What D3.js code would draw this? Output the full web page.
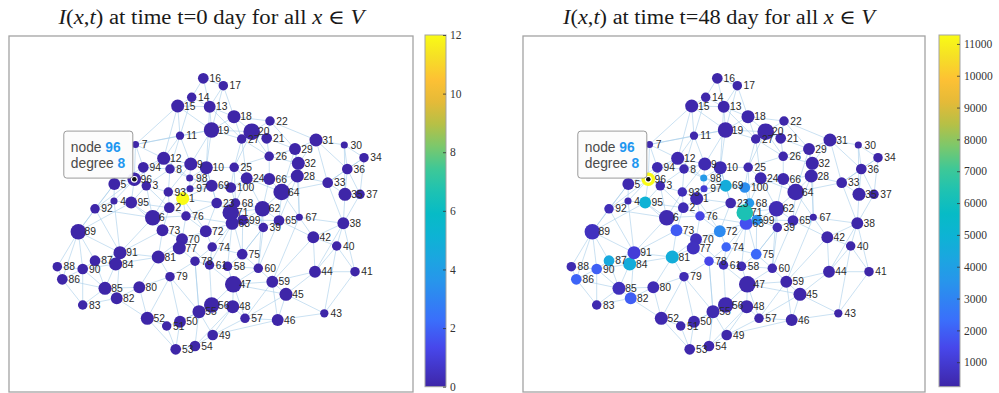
<!DOCTYPE html>
<html>
<head>
<meta charset="utf-8">
<script src="https://cdn.jsdelivr.net/npm/d3@7"></script>
<style>
  body { margin: 0; background: #fff; }
  svg { display: block; }
</style>
</head>
<body>
<svg id="chart" width="999" height="393"></svg>
<script>
// graph layout coordinates of node 1..100 (same layout in both panels)
const nodeX = [173.7,160.3,137.3,105,105.3,143.7,126.5,161,181.8,197.3,
  171,154.7,200.7,182.7,168.7,194.3,214.3,225,202.5,242.7,
  257.7,261,207.7,237.7,225.2,260.2,232.7,288.3,286,335.3,
  307,289.3,318.7,355,336,338.3,351,334.3,254.3,327.7,
  346,304.3,315.3,306,277,268.7,224.3,223.7,203.7,171,
  157.7,138.3,166.7,186,190,202.7,236,218.5,263.3,249.3,
  200.5,253.5,223.2,272.7,270,260.3,290.3,226.5,202.7,173,
  221.8,196.8,153.5,203.2,233.2,177,170.3,186,161,130.3,
  149.3,107.7,73.7,106.7,96,53.3,86,48.3,69.3,73.7,
  111,86,159.3,134.3,122.2,125.3,181,180.7,233.7,221.8];
const nodeY = [193.5,184.3,206.2,191,208,174.3,247.5,223,228,224.3,
  256.3,233.7,285.3,294.7,286,313.7,306.3,275.3,262,260.3,
  253.7,271,189,213.7,224.7,235.7,253,216,243,247,
  252,228.7,209.3,234.3,197.7,223,197.7,168.7,164.5,146,
  120.3,154.7,78.7,120.3,97.7,72,107.7,85.3,57,70.3,
  66,73.7,42.7,46,80.3,87,73.7,125.7,110.3,123.7,
  127,183.3,168.7,200,171.5,213,174.7,189,206.2,152.8,
  179.5,160.8,161.7,145,137.8,176,144,130.8,115.3,104.7,
  135,93.7,87,128,103.7,112.7,131.3,125.3,160.3,123,
  139.3,183.2,200,224.7,189.5,212.7,203.3,214,172,204.5];
const nodeDegree = [11,9,8,6,10,13,6,8,11,11,
  7,11,10,8,11,9,8,11,13,14,
  9,8,9,10,8,8,8,11,10,6,
  11,11,9,8,11,9,8,10,8,8,
  8,10,7,10,11,10,14,11,9,10,
  8,11,9,9,11,13,8,8,10,8,
  8,13,11,14,9,10,6,8,10,10,
  14,10,10,8,9,8,11,8,8,10,
  11,10,8,11,11,9,9,8,13,9,
  11,8,8,9,10,8,6,6,9,9];

// I(x,t) at t = 0 and t = 48 days
const infectedDay0 = d3.range(100).map(i => i === 0 ? 12 : 0);
const infectedDay48 = [420,450,400,380,350,380,330,380,400,420,
  300,350,280,280,300,250,250,280,300,300,
  280,260,330,350,330,300,300,280,260,230,
  250,270,260,230,250,240,230,250,420,250,
  230,280,230,260,260,250,330,300,270,330,
  330,350,300,300,380,350,270,450,280,350,
  500,450,1650,320,350,320,280,3700,4600,600,
  6300,3200,1900,2100,2200,1300,650,1400,450,450,
  4650,1950,380,4600,600,2100,4400,400,650,2000,
  1100,500,500,380,4900,11280,1000,3750,3400,3300];

const ticksDay0 = [0,2,4,6,8,10,12];
const ticksDay48 = [1000,2000,3000,4000,5000,6000,7000,8000,9000,10000,11000];

const edgeList = ("16-17 16-14 16-13 14-15 14-13 15-13 15-11 15-19 13-19 13-18 17-18 17-13 18-19 18-20 " +
  "18-22 18-27 19-11 19-10 19-27 19-9 20-21 20-22 20-27 20-26 21-22 21-26 21-29 22-31 27-25 11-12 " +
  "11-9 11-7 12-8 12-94 12-9 12-7 8-9 8-98 8-93 9-98 9-10 10-25 10-69 10-98 25-24 25-100 25-26 " +
  "26-66 26-29 24-66 24-100 24-64 24-68 66-64 66-28 66-62 29-32 29-31 31-30 31-32 31-33 30-34 " +
  "30-36 34-36 34-37 36-35 36-33 32-28 28-33 28-64 33-35 35-37 35-38 37-38 64-62 64-67 64-65 " +
  "62-65 62-99 62-68 62-39 65-67 65-39 67-38 67-42 38-42 38-40 40-42 40-41 42-44 44-41 44-59 " +
  "44-45 41-43 45-43 45-59 45-46 46-57 46-43 59-60 59-47 60-75 60-39 57-48 57-47 47-48 47-58 " +
  "47-56 48-56 48-49 56-55 55-50 55-54 49-54 49-57 50-51 50-53 51-52 51-53 53-54 52-80 52-82 " +
  "80-79 80-85 80-81 82-85 83-85 83-82 85-86 85-90 86-88 86-90 88-90 88-89 89-92 89-87 89-90 " +
  "87-90 87-84 87-91 84-91 84-81 91-81 91-6 81-73 81-77 81-79 79-78 77-70 70-73 70-76 73-6 6-2 " +
  "6-95 6-76 2-93 2-1 2-76 1-93 1-97 1-23 1-76 93-3 93-97 97-98 97-69 69-100 69-23 23-68 23-71 " +
  "23-72 68-100 68-71 71-63 71-99 63-99 63-72 63-74 99-39 72-74 72-76 74-61 74-75 61-78 61-58 " +
  "58-75 58-60 75-39 78-77 3-96 3-94 96-94 96-5 96-7 96-95 96-4 96-92 5-4 5-92 5-7 4-95 4-92 " +
  "95-3 94-7 94-8 3-2 7-15 92-91 89-95 91-82 79-52 78-55 70-61 76-23 47-45 56-61 55-79 54-48 " +
  "49-46 57-59 60-47 36-37 28-67 33-38 32-26 29-28 20-25 27-24 13-10 11-8 12-98 5-89 84-85 " +
  "90-84 86-83 77-72 73-2 6-93 1-69 97-10 98-100 71-62 99-75 63-58 65-42 67-59 62-60 64-33 " +
  "89-91 92-6 4-91 7-19 15-12 14-11 17-19 22-29 31-36 30-35 34-33 29-64 32-67 38-44 40-44 " +
  "42-59 65-60 39-75 47-61 56-50 55-78 53-52 49-55 57-45 46-59 43-40 41-38 82-80 83-90 86-89 " +
  "87-85 91-73 81-70 79-50 78-74 70-72 73-95 6-3 93-9 97-100 98-69 10-23 25-68 24-62 27-26 " +
  "20-19 13-27 94-5 96-12 3-8 2-95 1-72 76-63 23-99 71-75 63-61 99-65 66-100 28-65")
  .split(" ").map(s => s.split("-").map(Number));

const selectedNode = 96;

// MATLAB parula, sampled
const parulaT = [0,0.111,0.19,0.302,0.365,0.429,0.492,0.556,0.619,0.683,0.746,0.81,0.873,0.937,1];
const parulaC = ["#3e26a8","#4747eb","#3a6ffb","#2796eb","#1ba6e0","#0db3d4","#07bbc6","#1ec2b2",
  "#3ec897","#7bc86c","#b6c046","#e5ba38","#fdc134","#f6df26","#f9fb15"];

const svg = d3.select("#chart");
const defs = svg.append("defs");

const panels = [
  { day: 0, values: infectedDay0, cmin: 0, cmax: 12, ticks: ticksDay0, left: 9, right: 413, bar: 425, tx: 211.5 },
  { day: 48, values: infectedDay48, cmin: d3.min(infectedDay48), cmax: d3.max(infectedDay48),
    ticks: ticksDay48, left: 523, right: 925, bar: 939, tx: 719 }
];
const axTop = 36, axBottom = 392;

panels.forEach((p, pi) => {
  const x = d3.scaleLinear().domain([0, 404]).range([p.left, p.left + 404]);
  const y = d3.scaleLinear().domain([0, 356]).range([axBottom, axTop]);
  const r = d3.scaleLinear().domain([0, 14]).range([0, 8.3]);
  const tScale = d3.scaleLinear().domain([p.cmin, p.cmax]).range([0, 1]).clamp(true);
  const parula = d3.scaleLinear().domain(parulaT).range(parulaC).interpolate(d3.interpolateRgb);
  const color = v => parula(tScale(v));

  const g = svg.append("g");

  // axes box
  g.append("rect")
    .attr("x", p.left).attr("y", axTop)
    .attr("width", p.right - p.left).attr("height", axBottom - axTop)
    .attr("fill", "#fff").attr("stroke", "#a3a3a3").attr("stroke-width", 1.3);

  // title
  const title = g.append("text")
    .attr("x", p.tx).attr("y", 24)
    .attr("text-anchor", "middle")
    .attr("font-family", "'Liberation Serif', 'DejaVu Serif', serif")
    .attr("font-size", 20).attr("fill", "#1a1a1a")
    .attr("textLength", p.day === 0 ? 306 : 312).attr("lengthAdjust", "spacingAndGlyphs");
  [["I", 1], ["(", 0], ["x", 1], [",", 0], ["t", 1], [")", 0],
   [" at time t=" + p.day + " day for all ", 0], ["x", 1], [" \u2208 ", 0], ["V", 1]]
    .forEach(([s, it]) => title.append("tspan").attr("font-style", it ? "italic" : "normal").text(s));

  // edges
  g.append("g").selectAll("line").data(edgeList).join("line")
    .attr("x1", d => x(nodeX[d[0] - 1])).attr("y1", d => y(nodeY[d[0] - 1]))
    .attr("x2", d => x(nodeX[d[1] - 1])).attr("y2", d => y(nodeY[d[1] - 1]))
    .attr("stroke", "#a6cdea").attr("stroke-opacity", 0.75).attr("stroke-width", 0.8);

  const nodes = d3.range(100);
  g.append("g").selectAll("circle").data(nodes).join("circle")
    .attr("cx", i => x(nodeX[i])).attr("cy", i => y(nodeY[i]))
    .attr("r", i => r(nodeDegree[i]))
    .attr("fill", i => color(p.values[i]));

  g.append("g").selectAll("text").data(nodes).join("text")
    .attr("x", i => x(nodeX[i]) + 6.3).attr("y", i => y(nodeY[i]) + 3.6)
    .attr("font-family", "'Liberation Sans', Arial, sans-serif")
    .attr("font-size", 10.3).attr("fill", "#2b2b2b")
    .text(i => i + 1);

  // data tip on the selected node
  const si = selectedNode - 1;
  const sx = x(nodeX[si]), sy = y(nodeY[si]);
  g.append("circle").attr("cx", sx).attr("cy", sy).attr("r", 6.8).attr("fill", color(p.values[si]));
  g.append("circle").attr("cx", sx).attr("cy", sy).attr("r", 3.4).attr("fill", "#fff");
  g.append("circle").attr("cx", sx).attr("cy", sy).attr("r", 2.3).attr("fill", "#111");
  const bw = 69, bh = 47;
  const bx = sx - 1.5 - bw, by = sy - 1.2 - bh;
  g.append("rect").attr("x", bx).attr("y", by).attr("width", bw).attr("height", bh)
    .attr("rx", 3).attr("fill", "#fcfcfc").attr("fill-opacity", 0.93)
    .attr("stroke", "#9a9a9a").attr("stroke-width", 1);
  [["node ", selectedNode, 20.5], ["degree ", nodeDegree[si], 37]].forEach(([lab, val, dy]) => {
    const t = g.append("text").attr("x", bx + 7).attr("y", by + dy)
      .attr("font-family", "'Liberation Sans', Arial, sans-serif").attr("font-size", 13.8);
    t.append("tspan").attr("fill", "#4a4a4a").text(lab);
    t.append("tspan").attr("fill", "#1f97f0").attr("font-weight", "bold").text(val);
  });

  // colorbar
  const gid = "parula" + pi;
  const grad = defs.append("linearGradient").attr("id", gid)
    .attr("x1", 0).attr("y1", 1).attr("x2", 0).attr("y2", 0);
  parulaT.forEach((t, k) => grad.append("stop").attr("offset", t).attr("stop-color", parulaC[k]));
  const barTop = 35, barBottom = 386.7, barW = 21;
  const cy = d3.scaleLinear().domain([p.cmin, p.cmax]).range([barBottom, barTop]);
  g.append("rect").attr("x", p.bar).attr("y", barTop).attr("width", barW)
    .attr("height", barBottom - barTop).attr("fill", `url(#${gid})`)
    .attr("stroke", "#a3a3a3").attr("stroke-width", 1);
  const axis = d3.axisLeft(cy).tickValues(p.ticks).tickSize(3).tickFormat(d3.format("d"));
  const ag = g.append("g").attr("transform", `translate(${p.bar + barW},0)`).call(axis);
  ag.select(".domain").remove();
  ag.selectAll(".tick line").attr("stroke", "#333").attr("stroke-width", 0.8);
  ag.selectAll(".tick text")
    .attr("x", 4).attr("text-anchor", "start")
    .attr("font-family", "'Liberation Serif', 'DejaVu Serif', serif")
    .attr("font-size", 11.5).attr("fill", "#333");
});
</script>
</body>
</html>
